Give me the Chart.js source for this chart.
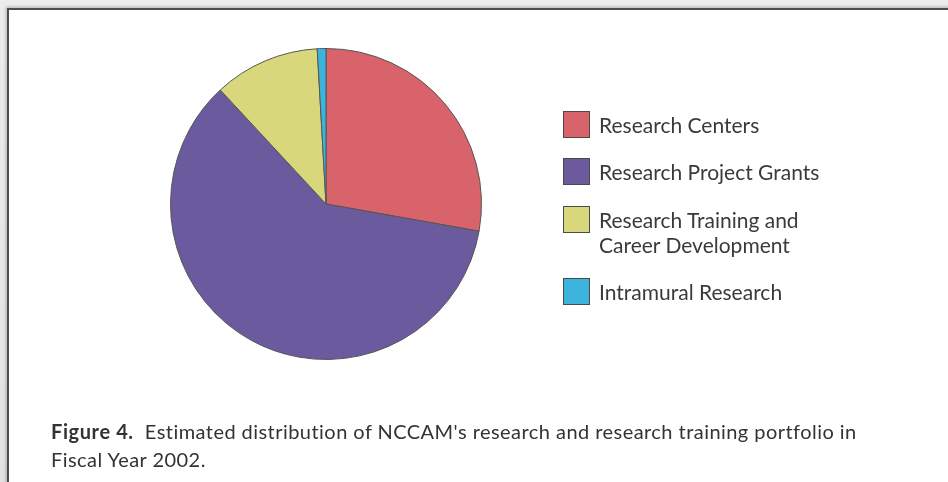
<!DOCTYPE html>
<html>
<head>
<meta charset="utf-8">
<script src="https://cdn.jsdelivr.net/npm/chart.js@4/dist/chart.umd.min.js"></script>
<style>
  html, body { margin: 0; padding: 0; }
  body { width: 948px; height: 482px; overflow: hidden; position: relative;
         background: linear-gradient(#ececec, #e2e2e2); font-family: Lato, "Open Sans", sans-serif; }
  #frame { position: absolute; left: 7px; top: 8px; width: 960px; height: 500px; background: #fff;
           border-left: 2px solid #4d4d4d; border-top: 2px solid #4d4d4d;
           box-shadow: -1px -1px 3px rgba(0,0,0,0.25); }
  #c { position: absolute; left: 0; top: 0; }
  #legend { position: absolute; left: 0; top: 0; }
  .item { position: absolute; left: 563px; }
  .box { position: absolute; left: 0; top: 0; width: 25px; height: 25px; border: 1.5px solid #4a4a4a; }
  .lbl { position: absolute; left: 36px; top: 1px; white-space: nowrap; font-size: 21px; line-height: 25px; color: #3a3a3a; }
  #caption { position: absolute; left: 51px; top: 418px; font-size: 20px; line-height: 27.5px; letter-spacing: 0.45px; color: #333; white-space: nowrap; }
  #caption b { font-weight: 700; letter-spacing: 0.6px; }
</style>
</head>
<body>
<div id="frame"></div>
<canvas id="c" width="948" height="482"></canvas>
<div id="legend"></div>
<div id="caption"><b>Figure 4.</b>&nbsp; Estimated distribution of NCCAM's research and research training portfolio in<br>Fiscal Year 2002.</div>
<script>
const categories = [
  ['Research Centers'],
  ['Research Project Grants'],
  ['Research Training and', 'Career Development'],
  ['Intramural Research']
];
const shares = [27.8, 60.3, 11.0, 0.9];
const colors = ['#d8636b', '#6b5a9d', '#d9d77b', '#3cb4dd'];

// legend (HTML), built from the arrays
const legendTops = [111, 158, 206, 278];
const legend = document.getElementById('legend');
categories.forEach((lines, i) => {
  const it = document.createElement('div');
  it.className = 'item';
  it.style.top = legendTops[i] + 'px';
  const box = document.createElement('div');
  box.className = 'box';
  box.style.background = colors[i];
  const lbl = document.createElement('div');
  lbl.className = 'lbl';
  lbl.innerHTML = lines.join('<br>');
  it.appendChild(box);
  it.appendChild(lbl);
  legend.appendChild(it);
});

new Chart(document.getElementById('c'), {
  type: 'pie',
  data: {
    labels: categories,
    datasets: [{
      data: shares,
      backgroundColor: colors,
      borderColor: '#555555',
      borderWidth: 1
    }]
  },
  options: {
    responsive: false,
    animation: false,
    layout: { padding: { left: 170, top: 48, right: 466, bottom: 122 } },
    plugins: { legend: { display: false }, tooltip: { enabled: false } }
  }
});
</script>
</body>
</html>
